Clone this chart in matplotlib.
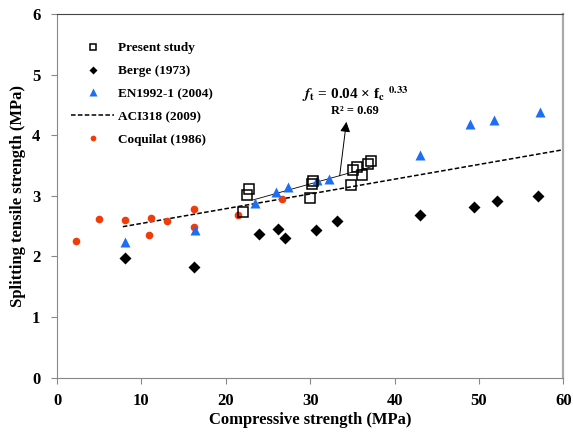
import numpy as np
import matplotlib
matplotlib.use("Agg")
import matplotlib.pyplot as plt

plt.rcParams['font.family'] = ['Liberation Serif', 'DejaVu Serif']
plt.rcParams['font.weight'] = 'bold'
plt.rcParams['mathtext.fontset'] = 'stix'

# Present study
fc_present = [22.1, 22.5, 22.8, 30.0, 30.2, 30.3, 34.9, 35.1, 35.6, 36.1, 36.9, 37.2]
ft_present = [2.74, 3.01, 3.11, 2.97, 3.19, 3.25, 3.17, 3.42, 3.47, 3.35, 3.53, 3.58]

# Berge (1973)
fc_berge = [8.0, 16.2, 23.9, 26.2, 27.0, 30.7, 33.2, 43.0, 49.4, 52.2, 57.0]
ft_berge = [1.98, 1.83, 2.37, 2.45, 2.30, 2.44, 2.58, 2.68, 2.82, 2.92, 3.00]

# EN1992-1 (2004)
fc_en = [8.0, 16.3, 23.5, 26.0, 27.4, 30.8, 32.2, 43.0, 49.0, 51.8, 57.2]
ft_en = [2.23, 2.44, 2.88, 3.06, 3.14, 3.26, 3.27, 3.67, 4.18, 4.25, 4.39]

# ACI318 (2009)
fc_aci = [7.8, 60.0]
ft_aci = [2.49, 3.76]

# Coquilat (1986)
fc_coq = [2.3, 5.0, 8.1, 11.1, 10.9, 13.0, 16.2, 16.2, 21.4, 26.7]
ft_coq = [2.26, 2.62, 2.60, 2.64, 2.35, 2.59, 2.78, 2.49, 2.68, 2.94]

# fitted trend of present study
fc_fit = [23.2, 37.3]
ft_fit = [2.93, 3.48]

fig = plt.figure(figsize=(5.73, 4.37), dpi=100)
ax = fig.add_axes([0.0995, 0.136, 0.8835, 0.832])

ax.plot(fc_fit, ft_fit, color='black', lw=0.6, zorder=2)
ax.plot(fc_coq, ft_coq, 'o', color='#F03C0A', ms=5.5, mec='none', label='Coquilat (1986)', zorder=3)
ax.plot(fc_aci, ft_aci, '--', color='black', lw=1.1, dashes=(3, 1.5), label='ACI318 (2009)', zorder=2)
ax.plot(fc_berge, ft_berge, 'D', color='black', ms=6, mec='none', label='Berge (1973)', zorder=3)
ax.plot(fc_en, ft_en, '^', color='#1E6EF5', ms=7.5, mec='none', label='EN1992-1 (2004)', zorder=3)
ax.plot(fc_present, ft_present, 's', mfc='none', mec='black', mew=1.1, ms=6.5, label='Present study', zorder=4)

ax.annotate('', xy=(34.3, 4.22), xytext=(33.5, 3.33),
            arrowprops=dict(arrowstyle='-|>,head_length=0.6,head_width=0.3', color='#555555', lw=0.7,
                            shrinkA=0, shrinkB=0, fc='black', ec='black'))
ax.text(35.3, 4.67, r'$\mathbfit{f}_{\mathbf{t}}$ = 0.04 × f$_\mathbf{c}$ $^{\mathbf{0.33}}$',
        ha='center', va='center', fontsize=11, fontweight='bold')
ax.text(35.3, 4.40, 'R² = 0.69', ha='center', va='center', fontsize=9, fontweight='bold')

h, l = ax.get_legend_handles_labels()
order = ['Present study', 'Berge (1973)', 'EN1992-1 (2004)', 'ACI318 (2009)', 'Coquilat (1986)']
hs = [h[l.index(o)] for o in order]
leg = ax.legend(hs, order, loc='upper left', bbox_to_anchor=(0.005, 0.955), frameon=False,
                prop={'weight': 'bold', 'size': 9.5}, handlelength=3.2,
                labelspacing=0.8, markerscale=0.75, handletextpad=0.35)

ax.set_xlim(0, 60)
ax.set_ylim(0, 6)
ax.set_xticks(np.arange(0, 61, 10))
ax.set_yticks(np.arange(0, 7, 1))
ax.tick_params(axis='both', direction='out', length=4, color='#888888', labelsize=12, width=0.8)
ax.tick_params(axis='x', pad=7)
ax.tick_params(axis='y', pad=8)
for t in ax.get_xticklabels() + ax.get_yticklabels():
    t.set_fontweight('bold')
ax.spines['left'].set_color('#888888')
ax.spines['bottom'].set_color('#888888')
ax.spines['top'].set_color('#444444')
ax.spines['right'].set_color('#aaaaaa')
ax.spines['right'].set_linewidth(1.6)
ax.set_xlabel('Compressive strength (MPa)', fontsize=12, fontweight='bold', labelpad=2)
ax.set_ylabel('Splitting tensile strength (MPa)', fontsize=12, fontweight='bold', labelpad=4)

fig.savefig('out.png', dpi=100)
